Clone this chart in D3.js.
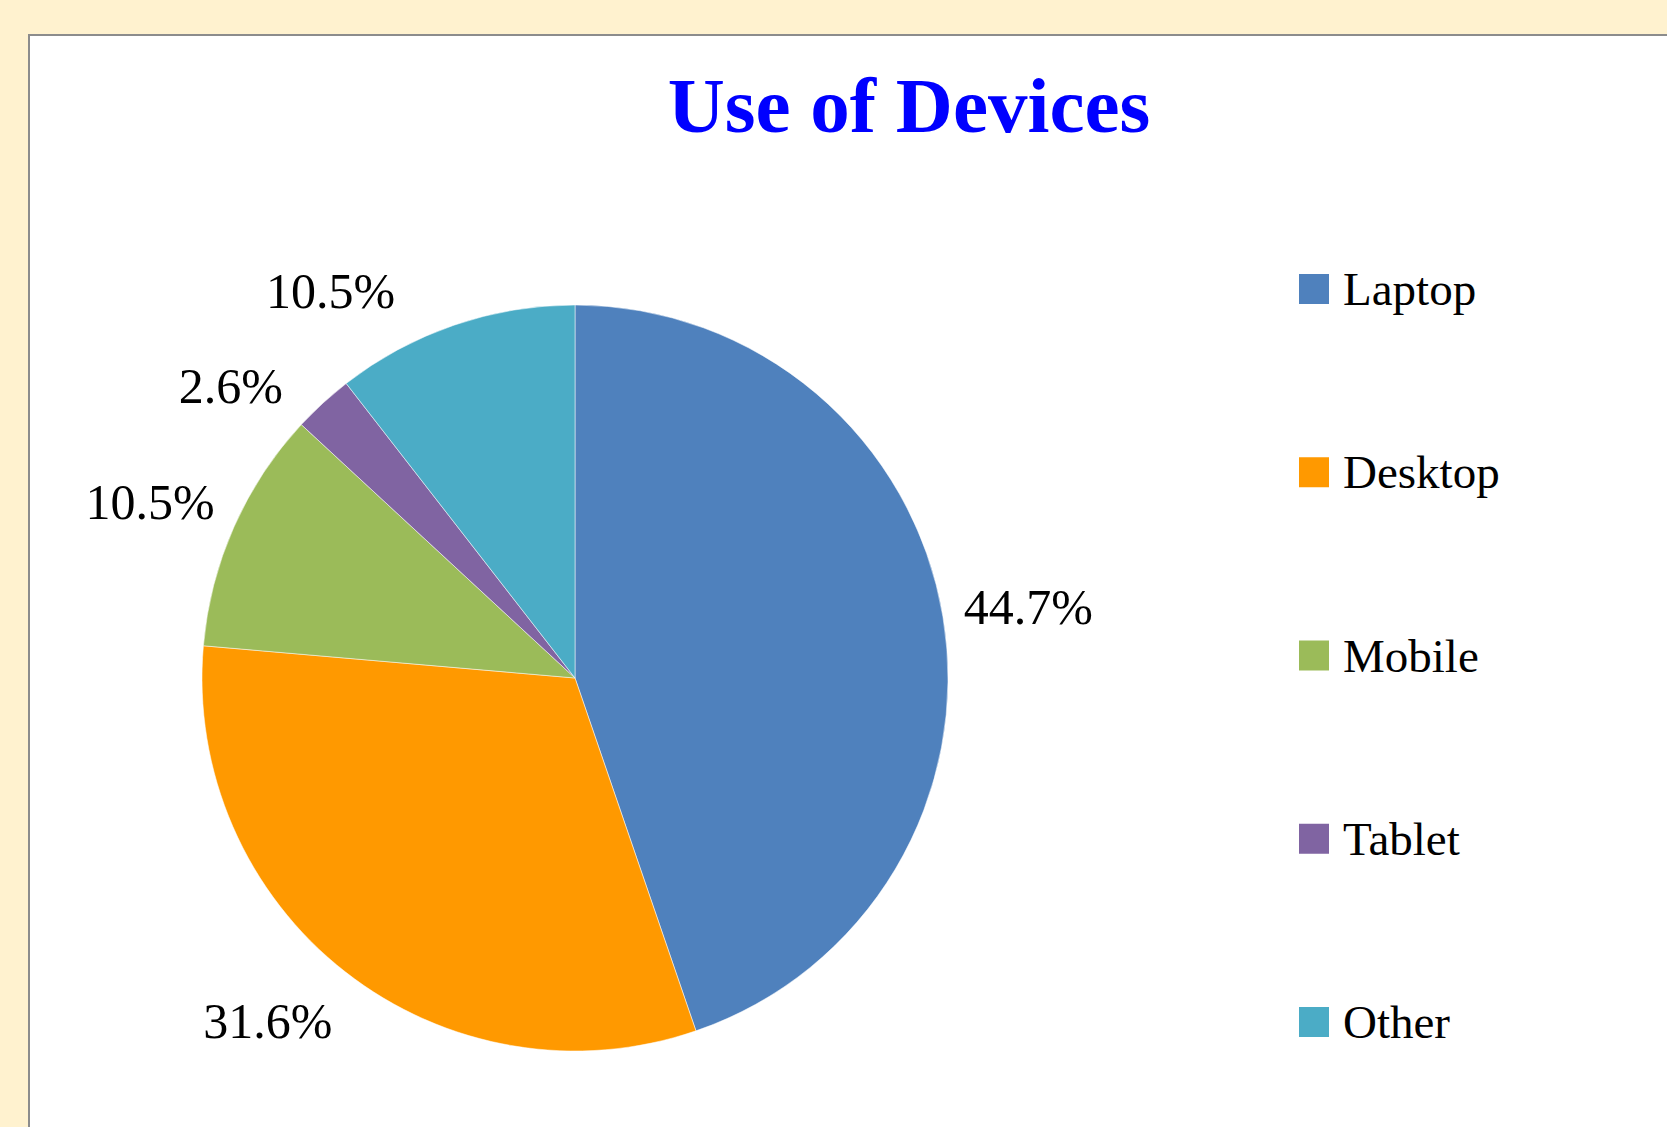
<!DOCTYPE html>
<html>
<head>
<meta charset="utf-8">
<script src="https://cdn.jsdelivr.net/npm/d3@7"></script>
<style>
    html, body { margin: 0; padding: 0; background: #FFF2CF; overflow: hidden; }
    svg { display: block; }
</style>
</head>
<body>
<svg id="chart"></svg>
<script>
// data
const devices = ["Laptop", "Desktop", "Mobile", "Tablet", "Other"];
const shares = [44.7, 31.6, 10.5, 2.6, 10.5];
const sliceColors = ["#4F81BD", "#FF9900", "#9BBB59", "#8064A2", "#4BACC6"];
const chartTitle = "Use of Devices";

class DevicesPie{
    constructor(){
        this.width = 1667;
        this.height = 1127;
        this.font = "'Liberation Serif', 'Times New Roman', serif";
        this.center = [575, 678];
        this.radius = 373;
        this.labelRx = 394;       // inner edge of label box, horizontally
        this.labelRy = 435;       // label centre, vertically
        this.plotTop = 262;       // labels are kept below this line
        this.labelGap = 95;       // min vertical spacing of labels on one side
        this.labelSize = 50;
        this.svg = d3.select("svg#chart").attr("width", this.width).attr("height", this.height);
    }

    init = () => {
        this.drawPanel();
        this.drawTitle();
        this.drawPie();
        this.drawLegend();
    }

    drawPanel = () => {
        this.svg.append("rect")
            .attr("x", 29).attr("y", 35)
            .attr("width", this.width).attr("height", this.height)
            .attr("fill", "#ffffff")
            .attr("stroke", "#8c8c8c")
            .attr("stroke-width", 2);
    }

    drawTitle = () => {
        this.svg.append("text")
            .attr("x", 909).attr("y", 132)
            .attr("text-anchor", "middle")
            .attr("font-family", this.font)
            .attr("font-weight", "bold")
            .attr("font-size", 79)
            .attr("fill", "#0000FF")
            .text(chartTitle);
    }

    // y from cos of mid angle, x from sin; labels pushed down when they clash
    placeLabels = (arcs) => {
        let topLimit = this.plotTop + 29 - this.center[1];
        let pts = arcs.map(d => {
            let mid = (d.startAngle + d.endAngle) / 2;
            return {d: d, side: Math.sin(mid) >= 0 ? 1 : -1, y: -this.labelRy * Math.cos(mid)};
        });
        pts.forEach(p => { if(p.y < topLimit) p.y = topLimit; });
        [-1, 1].forEach(side => {
            let group = pts.filter(p => p.side == side).sort((a, b) => a.y - b.y);
            group.forEach((p, i) => {
                if(i > 0 && p.y < group[i - 1].y + this.labelGap) p.y = group[i - 1].y + this.labelGap;
            });
        });
        pts.forEach(p => {
            let c = Math.max(-1, Math.min(1, -p.y / this.labelRy));
            p.s = p.side * Math.sqrt(1 - c * c);
        });
        return pts;
    }

    drawPie = () => {
        let data = devices.map((d, i) => ({device: d, value: shares[i]}));
        let color = d3.scaleOrdinal().domain(devices).range(sliceColors);
        let pie = d3.pie().sort(null).value(d => d.value);
        let arc = d3.arc().innerRadius(0).outerRadius(this.radius);
        let arcs = pie(data);

        let g = this.svg.append("g").attr("transform", `translate(${this.center[0]},${this.center[1]})`);
        g.selectAll("path.slice")
            .data(arcs)
            .enter()
            .append("path")
            .attr("class", "slice")
            .attr("d", arc)
            .attr("fill", d => color(d.data.device))
            .attr("stroke", "#ffffff")
            .attr("stroke-opacity", 0.5)
            .attr("stroke-width", 1);

        let capH = this.labelSize * 0.68;
        let rx = this.labelRx;
        g.selectAll("text.pct")
            .data(this.placeLabels(arcs))
            .enter()
            .append("text")
            .attr("class", "pct")
            .attr("text-anchor", "middle")
            .attr("font-family", this.font)
            .attr("font-size", this.labelSize)
            .attr("fill", "#000000")
            .attr("y", p => p.y + capH / 2)
            .text(p => `${d3.format(".1f")(p.d.data.value)}%`)
            .each(function(p){
                let w = this.getComputedTextLength();
                d3.select(this).attr("x", p.s * rx + p.side * w / 2);
            });
    }

    drawLegend = () => {
        let y = d3.scalePoint().domain(devices).range([305, 1038]);
        let color = d3.scaleOrdinal().domain(devices).range(sliceColors);
        let items = this.svg.append("g").selectAll("g.item")
            .data(devices)
            .enter()
            .append("g")
            .attr("class", "item")
            .attr("transform", d => `translate(1299,${y(d)})`);
        items.append("rect")
            .attr("x", 0).attr("y", -31)
            .attr("width", 30).attr("height", 30)
            .attr("fill", d => color(d));
        items.append("text")
            .attr("x", 44).attr("y", 0)
            .attr("font-family", this.font)
            .attr("font-size", 47)
            .attr("fill", "#000000")
            .text(d => d);
    }
}

new DevicesPie().init();
</script>
</body>
</html>
